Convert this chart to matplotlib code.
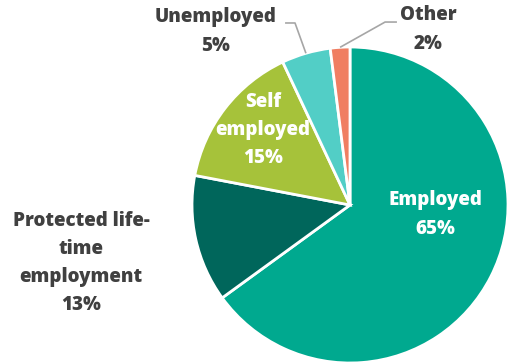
import numpy as np
import matplotlib.pyplot as plt

# Share of workers by employment status
labels = ['Employed', 'Protected life-\ntime\nemployment', 'Self\nemployed', 'Unemployed', 'Other']
shares = [65, 13, 15, 5, 2]
colors = ['#00A98F', '#00665B', '#A6C23A', '#52CEC6', '#F07E62']

fig = plt.figure(figsize=(5.08, 3.64), dpi=100)
ax = fig.add_axes([0, 0, 1, 1])

wedges, _ = ax.pie(shares, colors=colors, startangle=90, counterclock=False,
                   radius=1.0, wedgeprops=dict(edgecolor='white', linewidth=2))

ax.set_xlim(-350 / 158, 1.0)
ax.set_ylim(-159 / 158, 205 / 158)
ax.set_aspect('equal')
ax.axis('off')

font = dict(family=['Open Sans', 'DejaVu Sans'], fontweight='heavy', fontsize=13.5,
            ha='center', va='center', linespacing=1.55)
dark = '#404040'

def pct_label(i):
    return f'{labels[i]}\n{shares[i]}%'

# labels sitting inside their wedges
ax.text(0.538, -0.060, pct_label(0), color='white', **font)
ax.text(-0.551, 0.475, pct_label(2), color='white', **font)

# label left of the pie
ax.text(-1.703, -0.367, pct_label(1), color=dark, **font)

# small slices get leader lines
outside = {3: ((-0.348, 1.152), (-0.411, 1.152), (-0.854, 1.098)),
           4: ((0.222, 1.158), (0.297, 1.158), (0.494, 1.111))}
for i, (elbow, end, txt) in outside.items():
    w = wedges[i]
    mid = np.deg2rad((w.theta1 + w.theta2) / 2)
    start = (np.cos(mid), np.sin(mid))
    ax.plot([start[0], elbow[0], end[0]], [start[1], elbow[1], end[1]],
            color='#A6A6A6', linewidth=1.2, solid_capstyle='butt')
    ax.text(txt[0], txt[1], pct_label(i), color=dark, **font)

fig.savefig('out.png', dpi=100)
